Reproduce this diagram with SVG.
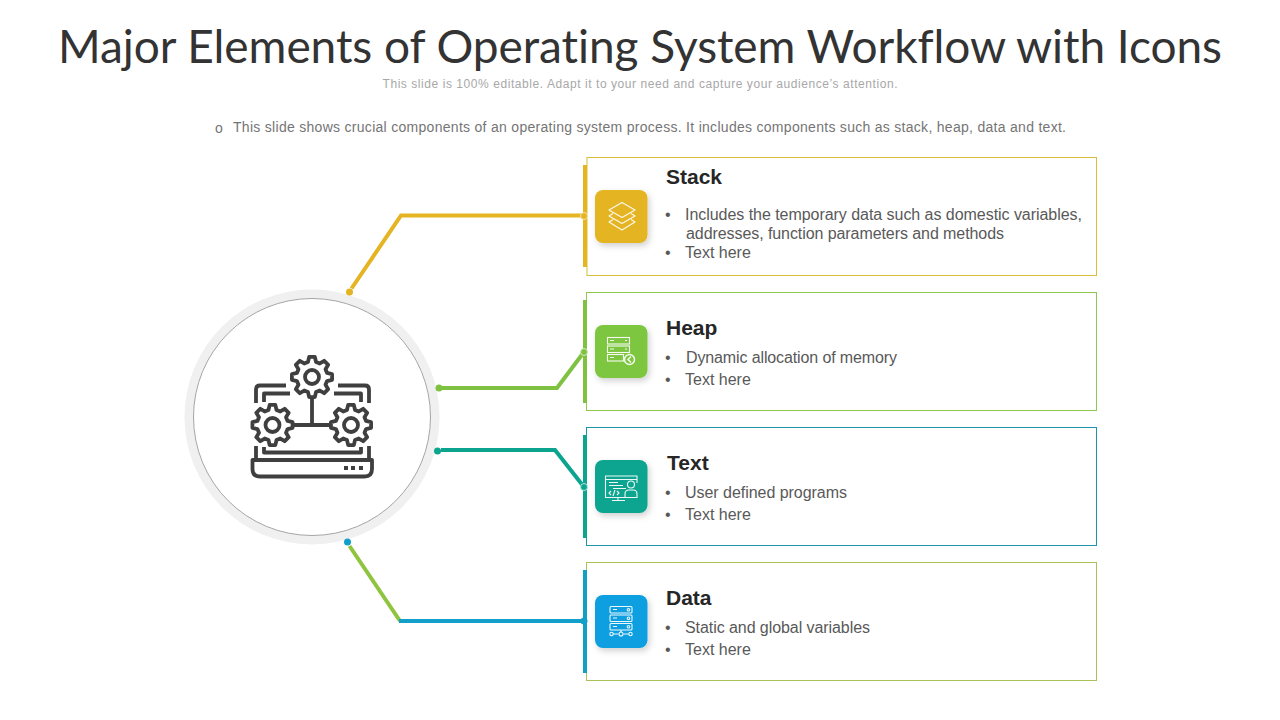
<svg xmlns="http://www.w3.org/2000/svg" xmlns:xlink="http://www.w3.org/1999/xlink" width="1280" height="720" viewBox="0 0 1280 720">
<style>
text{font-family:"Liberation Sans",Arial,sans-serif;font-variant-ligatures:none}
.title{font-family:"Lato","Liberation Sans",sans-serif;font-size:46px;font-weight:400;fill:#333}
.sub{font-size:12px;fill:#a8a8a8}
.intro{font-size:14px;fill:#757575}
.h{font-size:21px;font-weight:700;fill:#262626}
.b{font-size:16px;fill:#595959}
.box{fill:#fff;stroke-width:1}
.ln{fill:none;stroke-width:4;stroke-linejoin:miter}
.ic{fill:none;stroke:#3f3f3f;stroke-width:3.800;stroke-linejoin:round;stroke-linecap:butt}
.w{fill:none;stroke:#fff;stroke-width:1.100;opacity:.92}
</style>
<defs>
<filter id="sh" x="-30%" y="-30%" width="170%" height="170%"><feDropShadow dx="2" dy="3" stdDeviation="3" flood-color="#000" flood-opacity=".18"/></filter>
<g id="gear"><path d="M15.07 -4.04L20.08 -2.82 20.08 2.82 15.07 4.04 13.51 7.8 16.19 12.21 12.21 16.19 7.8 13.51 4.04 15.07 2.82 20.08 -2.82 20.08 -4.04 15.07 -7.8 13.51 -12.21 16.19 -16.19 12.21 -13.51 7.8 -15.07 4.04 -20.08 2.82 -20.08 -2.82 -15.07 -4.04 -13.51 -7.8 -16.19 -12.21 -12.21 -16.19 -7.8 -13.51 -4.04 -15.07 -2.82 -20.08 2.82 -20.08 4.04 -15.07 7.8 -13.51 12.21 -16.19 16.19 -12.21 13.51 -7.8Z"/><circle r="7"/></g>
</defs>
<rect width="1280" height="720" fill="#fff"/>
<text class="title" x="640" y="63" text-anchor="middle" textLength="1164" lengthAdjust="spacing">Major Elements of Operating System Workflow with Icons</text>
<text class="sub" x="640" y="88" text-anchor="middle" textLength="515" lengthAdjust="spacing">This slide is 100% editable. Adapt it to your need and capture your audience’s attention.</text>
<text class="intro" x="215" y="133">o</text>
<text class="intro" x="233" y="132" textLength="833" lengthAdjust="spacing">This slide shows crucial components of an operating system process. It includes components such as stack, heap, data and text.</text>

<g id="hub">
<circle cx="312" cy="417" r="127.500" fill="#f0f0f0"/>
<circle cx="312" cy="417" r="118.500" fill="#fff" stroke="#a6a6a6" stroke-width="1"/>
<g class="ic">
<path d="M286 385.500H260Q256 385.500 256 389.500V403M338 385.500H365Q369 385.500 369 389.500V403M256 446V460M369 446V460"/>
<path d="M290 393.500H264V402M334 393.500H361V402M264 447V452.500H361V447"/>
<path d="M252.500 460H372V469Q372 476.500 364.500 476.500H260Q252.500 476.500 252.500 469Z"/>
<path d="M312 397V425M292 425H331"/>
<use href="#gear" x="312" y="377"/>
<use href="#gear" x="272.500" y="425"/>
<use href="#gear" x="351" y="425"/>
</g>
<path d="M344 466h4v4h-4zM351 466h4v4h-4zM359 466h4v4h-4z" fill="#3f3f3f"/>
</g>

<g id="stack">
<rect class="box" x="587" y="157.500" width="509.500" height="118" stroke="#d8bd3c"/>
<rect x="583" y="165" width="4" height="102" fill="#e5b423"/>
<g filter="url(#sh)"><rect x="595" y="190" width="52.500" height="53" rx="8" fill="#e5b423"/></g>
<g class="w" stroke-linejoin="round"><path d="M622 202.500L635 210 622 217.500 609 210Z"/><path d="M613 213.500L609 216 622 223.500 635 216 631 213.500"/><path d="M613 219.500L609 222 622 230 635 222 631 219.500"/></g>
<text class="h" x="666" y="184">Stack</text>
<text class="b" x="665" y="220">•</text><text class="b" x="685" y="220" textLength="397" lengthAdjust="spacing">Includes the temporary data such as domestic variables,</text>
<text class="b" x="686" y="239" textLength="318" lengthAdjust="spacing">addresses, function parameters and methods</text>
<text class="b" x="665" y="258">•</text><text class="b" x="685" y="258">Text here</text>
</g>

<g id="heap">
<rect class="box" x="586.500" y="292.500" width="510" height="118" stroke="#8fc850"/>
<rect x="583" y="300" width="4" height="103" fill="#7fc241"/>
<g filter="url(#sh)"><rect x="595" y="325" width="52.500" height="53" rx="8" fill="#7dc63f"/></g>
<g class="w"><rect x="607.500" y="337.500" width="22" height="6.500"/><rect x="607.500" y="346" width="22" height="6.500"/><rect x="607.500" y="354.500" width="16" height="6.500"/><path d="M610 340.500h4M610 349h4M610 357.500h4M625 340.500h2M625 349h2"/><circle cx="629.500" cy="359.500" r="5" stroke-width="1.500"/><path d="M631 356.500l-3 3 3 3" stroke-width="1.500"/></g>
<text class="h" x="666" y="335">Heap</text>
<text class="b" x="665" y="363">•</text><text class="b" x="686" y="363" textLength="211" lengthAdjust="spacing">Dynamic allocation of memory</text>
<text class="b" x="665" y="385">•</text><text class="b" x="685" y="385">Text here</text>
</g>

<g id="text">
<rect class="box" x="586.500" y="427.500" width="510" height="118" stroke="#1f93a8"/>
<rect x="583" y="435" width="4" height="103" fill="#0ba58f"/>
<g filter="url(#sh)"><rect x="595" y="460" width="52.500" height="53" rx="8" fill="#0ba58f"/></g>
<g class="w"><path d="M637 483V476H605.500V497.500H625"/><path d="M605.500 479.500H637M609 482.500H618M609 485.500H623M613 488.500H626"/><path d="M618 497.500V500M612 500.500H625"/><circle cx="631" cy="484.500" r="3.500"/><path d="M625 497.500V494Q625 490 629 490H633Q637 490 637 494V497.500Z"/><path d="M611 491l-2 2 2 2M617 491l2 2-2 2M615 490l-2 6"/></g>
<text class="h" x="667" y="470">Text</text>
<text class="b" x="665" y="498">•</text><text class="b" x="685" y="498" textLength="162" lengthAdjust="spacing">User defined programs</text>
<text class="b" x="665" y="520">•</text><text class="b" x="685" y="520">Text here</text>
</g>

<g id="data">
<rect class="box" x="586.500" y="562.500" width="510" height="118" stroke="#a9c25a"/>
<rect x="583" y="570" width="4" height="103" fill="#129fc4"/>
<g filter="url(#sh)"><rect x="595" y="595" width="52.500" height="53" rx="8" fill="#0f9fdf"/></g>
<g class="w"><rect x="610" y="606.500" width="22" height="6.500" rx="1"/><rect x="610" y="615" width="22" height="6.500" rx="1"/><rect x="610" y="623.500" width="22" height="6.500" rx="1"/><path d="M613 609.500h4M613 618h4M613 626.500h4"/><circle cx="628.500" cy="609.750" r="1.300"/><circle cx="628.500" cy="618.250" r="1.300"/><circle cx="628.500" cy="626.750" r="1.300"/><path d="M621 630V632.500M613 634h5.500M623.500 634h5.500"/><circle cx="611.500" cy="634" r="1.700"/><circle cx="621" cy="634" r="2"/><circle cx="630.500" cy="634" r="1.700"/></g>
<text class="h" x="666" y="605">Data</text>
<text class="b" x="665" y="633">•</text><text class="b" x="685" y="633" textLength="185" lengthAdjust="spacing">Static and global variables</text>
<text class="b" x="665" y="655">•</text><text class="b" x="685" y="655">Text here</text>
</g>

<g id="connectors">
<path class="ln" stroke="#e5b423" d="M351.500 288.500L401 215.500H584"/>
<circle cx="349.500" cy="292" r="3.500" fill="#e5b423"/>
<circle cx="584" cy="216" r="3.500" fill="#e5b423" stroke="#f5e3a8"/>
<path class="ln" stroke="#7fc241" d="M442 388H557L584 352"/>
<circle cx="439" cy="388" r="3.500" fill="#7fc241"/>
<circle cx="584" cy="352" r="3.500" fill="#7fc241" stroke="#d5edc0"/>
<path class="ln" stroke="#0ba58f" d="M441 450H555L584 487"/>
<circle cx="437.500" cy="451" r="3.500" fill="#0ba58f"/>
<circle cx="584" cy="487" r="3.500" fill="#0ba58f" stroke="#b0e4dc"/>
<path class="ln" stroke="#8fc43f" d="M349.500 546L400 621"/>
<path class="ln" stroke="#129fc9" d="M399 621H584"/>
<circle cx="347.500" cy="542" r="3.500" fill="#129fc9"/>
<circle cx="584" cy="621" r="3.500" fill="#129fc9"/>
</g>
</svg>
